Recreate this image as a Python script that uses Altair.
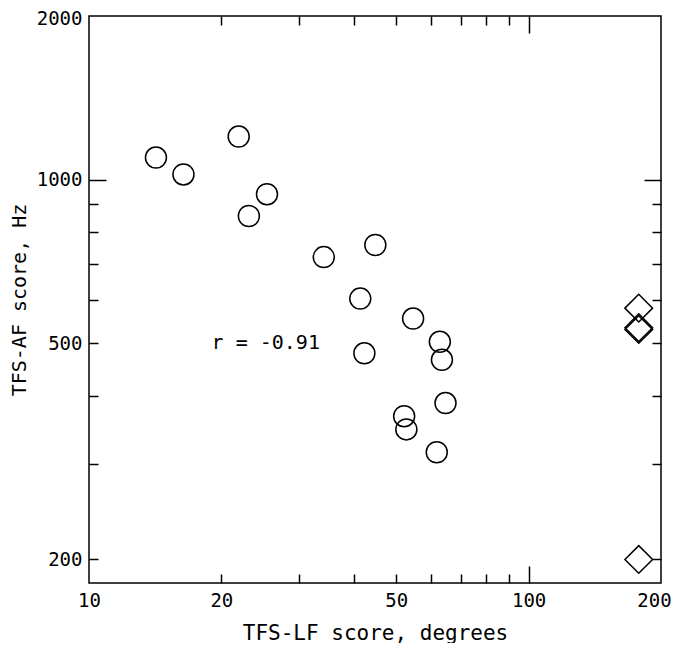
import altair as alt
import pandas as pd

# Circles: TFS-LF score (degrees) vs TFS-AF score (Hz)
lf_scores = [14.2, 16.4, 21.9, 23.1, 25.4, 34.2, 44.8, 41.4, 54.6, 42.3,
             62.8, 63.5, 64.7, 52.1, 52.7, 61.8]
af_scores = [1098, 1022, 1200, 857, 940, 720, 758, 604, 555, 479,
             503, 466, 388, 367, 347, 315]

# Diamonds at the ceiling of the LF test
ceil_lf = [178, 178, 178, 178]
ceil_af = [580, 530, 534, 200]

ann_x = [19.0]
ann_y = [500]
ann_text = ["r = -0.91"]

x_labels = [10, 20, 50, 100, 200]
y_labels = [200, 500, 1000, 2000]
x_ticks = [20, 30, 40, 50, 60, 70, 80, 90, 100]
y_ticks = [200, 300, 400, 500, 600, 700, 800, 900, 1000]

W, H = 572, 567
FONT = "DejaVu Sans Mono"

xs = alt.Scale(type="log", domain=[10, 200], nice=False)
ys = alt.Scale(type="log", domain=[181, 2000], nice=False)

xt_size = {"condition": {"test": "datum.value == 100", "value": 17}, "value": 9}
yt_size = {"condition": {"test": "datum.value == 1000", "value": 17}, "value": 9}
x_lab_off = {"condition": {"test": "datum.value == 200", "value": -7}, "value": 0}
y_lab_off = {"condition": {"test": "datum.value == 2000", "value": 2}, "value": 0}

circles = pd.DataFrame({"lf": lf_scores, "af": af_scores})
ceil = pd.DataFrame({"lf": ceil_lf, "af": ceil_af})
ann = pd.DataFrame({"lf": ann_x, "af": ann_y, "t": ann_text})

layer_circles = alt.Chart(circles).mark_point(
    shape="circle", filled=False, stroke="black", strokeWidth=1.5, size=441, opacity=1
).encode(
    x=alt.X("lf:Q", scale=xs, axis=alt.Axis(
        values=x_labels, ticks=False, domain=False, grid=False, format="d",
        labelPadding=8, labelFontSize=19, labelFont=FONT, labelColor="black",
        labelFlush=False, labelOverlap=False, labelBound=False,
        labelOffset=x_lab_off,
        title="TFS-LF score, degrees", titleFont=FONT, titleFontSize=21,
        titleFontWeight="normal", titleColor="black", titlePadding=12)),
    y=alt.Y("af:Q", scale=ys, axis=alt.Axis(
        values=y_labels, ticks=False, domain=False, grid=False, format="d",
        labelPadding=7, labelFontSize=19, labelFont=FONT, labelColor="black",
        labelFlush=False, labelOverlap=False, labelBound=False,
        labelOffset=y_lab_off,
        title="TFS-AF score, Hz", titleFont=FONT, titleFontSize=20,
        titleFontWeight="normal", titleColor="black", titlePadding=7)),
)

layer_ceil = alt.Chart(ceil).mark_point(
    shape="diamond", filled=False, stroke="black", strokeWidth=1.5, size=765, opacity=1
).encode(
    x=alt.X("lf:Q", scale=xs, axis=alt.Axis(
        orient="top", offset=-H, values=x_ticks, labels=False, domain=False,
        grid=False, title=None, tickSize=xt_size, tickWidth=1.5, tickColor="black")),
    y=alt.Y("af:Q", scale=ys, axis=alt.Axis(
        orient="right", offset=-W, values=y_ticks, labels=False, domain=False,
        grid=False, title=None, tickSize=yt_size, tickWidth=1.5, tickColor="black")),
)

layer_text = alt.Chart(ann).mark_text(
    align="left", baseline="middle", font=FONT, fontSize=20, color="black"
).encode(
    x=alt.X("lf:Q", scale=xs, axis=alt.Axis(
        orient="bottom", offset=-H, values=x_ticks, labels=False, domain=False,
        grid=False, title=None, tickSize=xt_size, tickWidth=1.5, tickColor="black")),
    y=alt.Y("af:Q", scale=ys, axis=alt.Axis(
        orient="left", offset=-W, values=y_ticks, labels=False, domain=False,
        grid=False, title=None, tickSize=yt_size, tickWidth=1.5, tickColor="black")),
    text="t:N",
)

chart = alt.layer(layer_circles, layer_ceil, layer_text).resolve_axis(
    x="independent", y="independent"
).properties(
    width=W, height=H,
    autosize=alt.AutoSizeParams(type="none"),
    padding={"left": 81, "top": 8, "right": 11, "bottom": 60},
    background="white",
).configure_view(
    stroke="black", strokeWidth=1.5
)

chart.save("out.html", embed_options={"renderer": "svg", "actions": False})
